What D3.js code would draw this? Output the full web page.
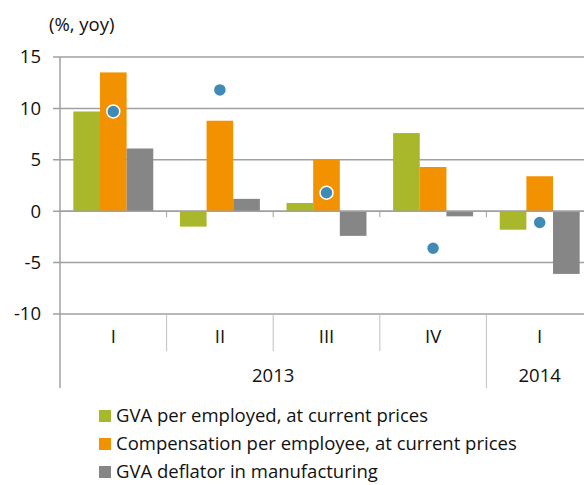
<!DOCTYPE html>
<html>
<head>
<meta charset="utf-8">
<script src="https://cdn.jsdelivr.net/npm/d3@7"></script>
<style>
  body { margin: 0; background: #fff; }
  text { font-family: "Open Sans", sans-serif; fill: #111; }
</style>
</head>
<body>
<div id="chart"></div>
<script>
var quarters = ["I", "II", "III", "IV", "I"];
var years = [{ label: "2013", from: 0, to: 4 }, { label: "2014", from: 4, to: 5 }];
var gvaPerEmployed = [9.7, -1.5, 0.8, 7.6, -1.8];
var compPerEmployee = [13.5, 8.8, 5.0, 4.3, 3.4];
var gvaDeflator = [6.1, 1.2, -2.4, -0.5, -6.1];
var unitLabourCost = [9.7, 11.8, 1.8, -3.6, -1.1];
var seriesNames = ["GVA per employed, at current prices", "Compensation per employee, at current prices", "GVA deflator in manufacturing"];
var seriesColors = ["#a8b82a", "#f39200", "#868686"];
var yTicks = [15, 10, 5, 0, -5, -10];

(function () {
  var width = 584, height = 485;
  var left = 60, right = 593, top = 57, bottom = 314;
  var fs = "18.5px";

  var svg = d3.select("#chart").append("svg")
    .attr("width", width)
    .attr("height", height);

  var x = d3.scaleBand().domain(d3.range(quarters.length)).range([left, right])
    .paddingInner(0.25).paddingOuter(0.125);
  var step = x.step();
  var xs = d3.scaleBand().domain([0, 1, 2]).range([0, x.bandwidth()]);
  var y = d3.scaleLinear().domain([-10, 15]).range([bottom, top]);

  // grid lines
  svg.selectAll(".grid").data(yTicks).enter().append("line")
    .attr("x1", left - 7).attr("x2", width)
    .attr("y1", function (d) { return y(d); })
    .attr("y2", function (d) { return y(d); })
    .attr("stroke", "#a0a0a0").attr("stroke-width", 1.5);

  svg.selectAll(".ylab").data(yTicks).enter().append("text")
    .attr("x", 41).attr("y", function (d) { return y(d); })
    .attr("dy", "0.35em").attr("text-anchor", "end")
    .style("font-size", fs)
    .text(function (d) { return d; });

  svg.append("text").attr("x", 49).attr("y", 31)
    .style("font-size", fs).text("(%, yoy)");

  // bars
  var all = [gvaPerEmployed, compPerEmployee, gvaDeflator];
  all.forEach(function (vals, s) {
    svg.selectAll(".bar" + s).data(vals).enter().append("rect")
      .attr("x", function (d, i) { return x(i) + xs(s); })
      .attr("width", xs.bandwidth())
      .attr("y", function (d) { return y(Math.max(0, d)); })
      .attr("height", function (d) { return Math.abs(y(d) - y(0)); })
      .attr("fill", seriesColors[s]);
  });

  // zero line over bars
  svg.append("line").attr("x1", left).attr("x2", width)
    .attr("y1", y(0)).attr("y2", y(0))
    .attr("stroke", "#a0a0a0").attr("stroke-width", 1.5);

  // small ticks on zero line
  d3.range(1, quarters.length).forEach(function (i) {
    var bx = left + step * i;
    svg.append("line").attr("x1", bx).attr("x2", bx)
      .attr("y1", y(0)).attr("y2", y(0) + 6)
      .attr("stroke", "#a0a0a0").attr("stroke-width", 1);
  });

  // dots
  svg.selectAll(".dot").data(unitLabourCost).enter().append("circle")
    .attr("cx", function (d, i) { return x(i) + x.bandwidth() / 2; })
    .attr("cy", function (d) { return y(d); })
    .attr("r", 6.5)
    .attr("fill", "#3f8bb6")
    .attr("stroke", "#fff").attr("stroke-width", 1.5);

  // left axis
  svg.append("line").attr("x1", left).attr("x2", left)
    .attr("y1", top).attr("y2", 388)
    .attr("stroke", "#a0a0a0").attr("stroke-width", 1.5);

  // category separators
  d3.range(1, quarters.length).forEach(function (i) {
    var bx = left + step * i;
    var isYear = years.some(function (yr) { return yr.from === i; });
    svg.append("line").attr("x1", bx).attr("x2", bx)
      .attr("y1", bottom).attr("y2", isYear ? 388 : 351)
      .attr("stroke", "#c0c0c0").attr("stroke-width", 1);
  });

  svg.selectAll(".qlab").data(quarters).enter().append("text")
    .attr("x", function (d, i) { return x(i) + x.bandwidth() / 2; })
    .attr("y", 337).attr("dy", "0.35em").attr("text-anchor", "middle")
    .style("font-size", fs)
    .text(function (d) { return d; });

  svg.selectAll(".ylab2").data(years).enter().append("text")
    .attr("x", function (d) { return left + step * (d.from + d.to) / 2; })
    .attr("y", 376).attr("dy", "0.35em").attr("text-anchor", "middle")
    .style("font-size", fs)
    .text(function (d) { return d.label; });

  // legend
  var legend = svg.selectAll(".leg").data(seriesNames).enter().append("g")
    .attr("transform", function (d, i) { return "translate(99," + (416 + i * 28) + ")"; });
  legend.append("rect").attr("x", 0).attr("y", -6).attr("width", 12).attr("height", 12)
    .attr("fill", function (d, i) { return seriesColors[i]; });
  legend.append("text").attr("x", 17).attr("dy", "0.35em")
    .style("font-size", fs)
    .text(function (d) { return d; });
})();
</script>
</body>
</html>
